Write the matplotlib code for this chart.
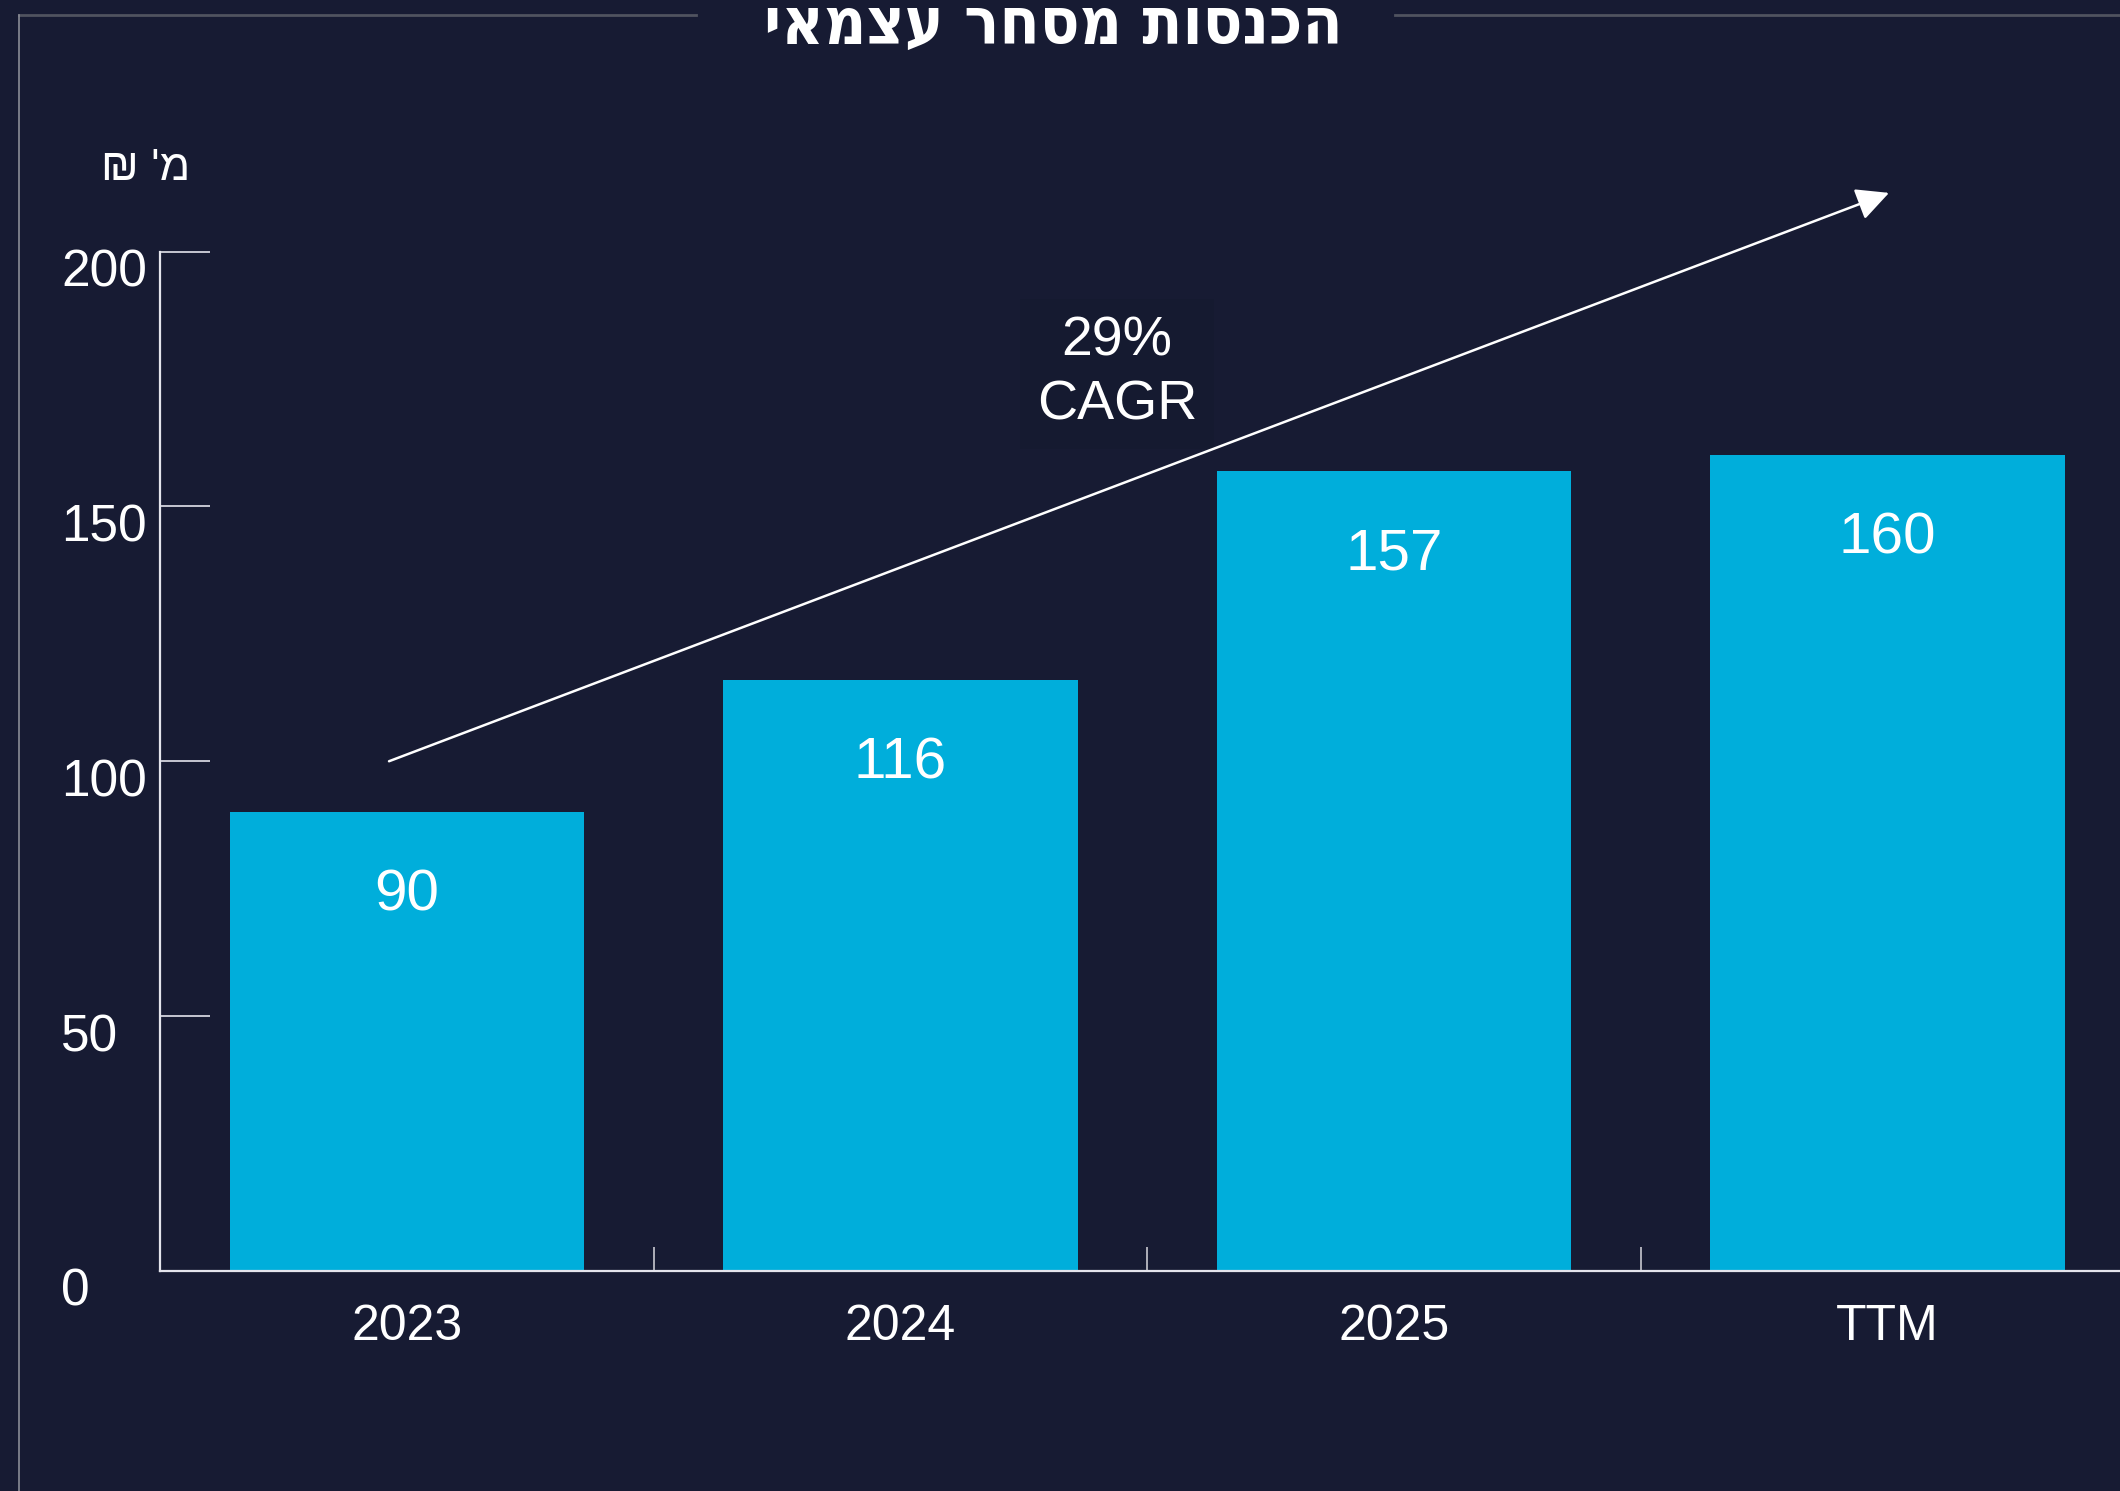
import matplotlib
matplotlib.use("Agg")
import matplotlib.pyplot as plt
import matplotlib.transforms as mtransforms
from matplotlib.lines import Line2D

categories = ["2023", "2024", "2025", "TTM"]
revenue = [90, 116, 157, 160]
y_ticks = [0, 50, 100, 150, 200]
title = "הכנסות מסחר עצמאי"
unit = "מ' ₪"
cagr_text = "29%\nCAGR"

BG = "#171b33"
BAR = "#00aedb"
AX = "#e4e4ec"

narrow = ["Liberation Sans Narrow", "Liberation Sans", "DejaVu Sans"]
plt.rcParams["font.family"] = narrow


def rtl(s):
    # matplotlib has no bidi support, flip Hebrew for display
    return s[::-1]


fig = plt.figure(figsize=(21.2, 14.91), dpi=100, facecolor=BG)
ax = fig.add_axes([160 / 2120, 1 - 1271 / 1491, 1 - 160 / 2120, (1271 - 251.5) / 1491])
ax.set_facecolor(BG)

x = list(range(len(categories)))
bars = ax.bar(x, revenue, width=0.718, color=BAR, zorder=2)

ax.set_xlim(-0.5, 3.471)
ax.set_ylim(0, 200)

for s in ["top", "right"]:
    ax.spines[s].set_visible(False)
for s in ["left", "bottom"]:
    ax.spines[s].set_color(AX)
    ax.spines[s].set_linewidth(1.6)
    ax.spines[s].set_zorder(3)

ax.set_yticks(y_ticks)
ax.set_yticklabels([str(v) for v in y_ticks])
ax.tick_params(axis="y", direction="in", length=36, width=1.2, color=AX,
               labelsize=37, labelcolor="white", pad=71)
off = mtransforms.ScaledTranslation(0, -0.16, fig.dpi_scale_trans)
for lab in ax.get_yticklabels():
    lab.set_horizontalalignment("left")
    lab.set_transform(lab.get_transform() + off)

ax.set_xticks(x)
ax.set_xticklabels(categories)
ax.set_xticks([0.5, 1.5, 2.5], minor=True)
ax.tick_params(axis="x", which="major", length=0, labelsize=36,
               labelcolor="white", pad=24)
ax.tick_params(axis="x", which="minor", direction="in", length=17,
               width=1.2, color="#c8c8d0")

for xi, v in zip(x, revenue):
    ax.annotate(str(v), (xi, v), xytext=(0, -60), textcoords="offset points",
                ha="center", va="center", fontsize=42, color="white", zorder=4)

# growth arrow
ax.annotate("", xy=(3.003, 211.5), xytext=(-0.036, 100), annotation_clip=False,
            arrowprops=dict(arrowstyle="-|>,head_length=1.0,head_width=0.5",
                            mutation_scale=20, color="white", lw=1.8,
                            shrinkA=0, shrinkB=0),
            zorder=5)
ax.text(1.439, 176, cagr_text, ha="center", va="center", fontsize=40,
        color="white", linespacing=1.3, zorder=4,
        bbox=dict(boxstyle="square,pad=0.3", facecolor="#151a30", edgecolor="none"))

# unit label above the y axis
fig.text(146 / 2120, 1 - 169 / 1491, rtl(unit), ha="center", va="center",
         fontsize=32, color="white", family=narrow)

# title, partly cut at the top edge
fig.text(1053 / 2120, 1 - 44 / 1491, rtl(title), ha="center", va="baseline",
         fontsize=47, weight="bold", color="white",
         family=["DejaVu Sans"], fontstretch="condensed")

# frame lines
fig.add_artist(Line2D([19 / 2120, 696 / 2120], [1 - 15 / 1491] * 2,
                      color="#50535f", lw=2))
fig.add_artist(Line2D([1395 / 2120, 1], [1 - 15 / 1491] * 2,
                      color="#50535f", lw=2))
fig.add_artist(Line2D([19 / 2120] * 2, [0, 1 - 15 / 1491],
                      color="#8a8c96", lw=1.2))

fig.savefig("out.png", facecolor=BG)
